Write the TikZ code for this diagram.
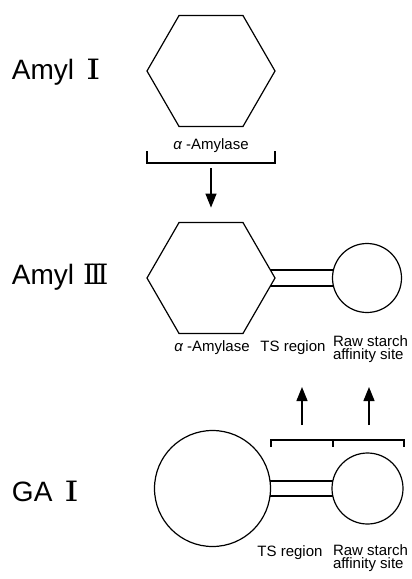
\documentclass[tikz,border=0pt]{standalone}
\usepackage{fontspec}
\setmainfont{Liberation Sans}
\newfontfamily\numfont{DejaVu Serif}
\newcommand{\romI}{\scalebox{1.3}[1]{\numfont I}}
\newcommand{\romIII}{{\numfont I\kern-4pt I\kern-4pt I}}
\usetikzlibrary{shapes.geometric,arrows.meta,backgrounds}
\begin{document}
\begin{tikzpicture}[x=1pt,y=-1pt,
  every node/.style={inner sep=0pt,outer sep=0pt},
  shapeline/.style={line width=1.2pt},
  hexa/.style={shapeline,draw,fill=white,regular polygon,regular polygon sides=6,minimum size=128pt},
  dom/.style={shapeline,draw,fill=white,circle},
  rail/.style={line width=1.2pt,double=white},
  brk/.style={line width=1.2pt},
  arr/.style={line width=1.3pt,-{Triangle[length=14pt,width=11pt]}},
  big/.style={font=\fontsize{28}{32}\selectfont,anchor=west},
  lab/.style={font=\fontsize{15}{16}\selectfont},
  labtwo/.style={font=\fontsize{15}{13.5}\selectfont,align=left,anchor=west}
]
\useasboundingbox (0,0) rectangle (412,579);

% row labels
\node[big] (n1) at (12,72) {Amyl\hspace{12pt}\romI};
\node[big] (n2) at (12,277) {Amyl\hspace{9pt}\romIII};
\node[big] (n3) at (12,491) {GA\hspace{12pt}\romI};

% Amyl I
\node[hexa] (h1) at (211,71) {};
\node[lab] (a1) at (211,146) {{\itshape α} -Amylase};
\coordinate (b1l) at (147,151);
\coordinate (b1r) at (275,151);
\coordinate (b1m) at (211,163);
\draw[brk] (b1l) |- (b1r |- b1m) -- (b1r);

% Amyl III
\node[hexa] (h2) at (211,278) {};
\node[dom,minimum size=69pt] (c2) at (367,278) {};
\begin{pgfonlayer}{background}
\draw[rail,double distance=14.8pt] (h2.center) -- (c2.center);
\end{pgfonlayer}
\node[lab] (a2) at (212,348) {{\itshape α} -Amylase};
\node[lab] (t2) at (293,348) {TS region};
\node[labtwo] (r2) at (333,349) {Raw starch\\affinity site};

\draw[arr,shorten <=5pt,shorten >=15pt] (b1m) -- (h2.north);

% GA I
\node[dom,minimum size=116pt] (c3) at (212.5,488.5) {};
\node[dom,minimum size=71pt] (c4) at (367.5,488.5) {};
\begin{pgfonlayer}{background}
\draw[rail,double distance=13.8pt] (c3.center) -- (c4.center);
\end{pgfonlayer}
\node[lab] (t3) at (290,553) {TS region};
\node[labtwo] (r3) at (333,558) {Raw starch\\affinity site};

\coordinate (g1l) at (271,447);
\coordinate (g1r) at (404,447);
\coordinate (g1m) at (333,440);
\coordinate (g1a) at (302,440);
\coordinate (g1b) at (369,440);
\coordinate (g1at) at (302,387);
\coordinate (g1bt) at (369,387);
\draw[brk] (g1l) |- (g1r |- g1m) -- (g1r);
\draw[line width=2.6pt] (g1m) -- ++(0,7);
\draw[arr,shorten <=15pt] (g1a) -- (g1at);
\draw[arr,shorten <=15pt] (g1b) -- (g1bt);
\end{tikzpicture}
\end{document}
